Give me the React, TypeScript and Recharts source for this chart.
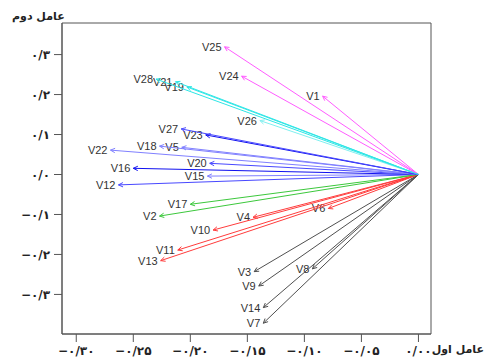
import React from "react";
import {
  ScatterChart,
  XAxis,
  YAxis,
  ReferenceLine,
  ReferenceArea,
} from "recharts";

// loadings (factor 1, factor 2)
const names = [
  "V1", "V2", "V3", "V4", "V5", "V6", "V7", "V8", "V9", "V10",
  "V11", "V12", "V13", "V14", "V15", "V16", "V17", "V18", "V19", "V20",
  "V21", "V22", "V23", "V24", "V25", "V26", "V27", "V28",
];
const factor1 = [
  -0.084, -0.227, -0.144, -0.145, -0.2075, -0.079, -0.136, -0.093, -0.14, -0.18,
  -0.211, -0.263, -0.226, -0.136, -0.185, -0.25, -0.2, -0.227, -0.203, -0.183,
  -0.213, -0.27, -0.1865, -0.155, -0.17, -0.139, -0.208, -0.23,
];
const factor2 = [
  0.196, -0.104, -0.243, -0.107, 0.068, -0.085, -0.372, -0.236, -0.279, -0.139,
  -0.189, -0.026, -0.2155, -0.333, -0.004, 0.0155, -0.0745, 0.071, 0.219, 0.028,
  0.232, 0.061, 0.099, 0.246, 0.3195, 0.135, 0.114, 0.2387,
];
const groups = [
  "pink", "green", "black", "red", "blueLight", "red", "black", "black", "black", "red",
  "red", "blue", "red", "black", "blueLight", "blueDark", "green", "blueLight", "cyan", "blue",
  "cyan", "blueLight", "blueDark", "pink", "pink", "cyanLight", "blue", "cyan",
];

const xTicks = [-0.3, -0.25, -0.2, -0.15, -0.1, -0.05, 0];
const yTicks = [-0.3, -0.2, -0.1, 0, 0.1, 0.2, 0.3];
const xTitle = "عامل اول";
const yTitle = "عامل دوم";

const groupColor: Record<string, string> = {
  pink: "#ff5cff",
  cyan: "#2ee6e6",
  cyanLight: "#7ff0f0",
  blueDark: "#1010f0",
  blue: "#4848ff",
  blueLight: "#8080ff",
  green: "#3cc83c",
  red: "#ff3c3c",
  black: "#505050",
};

const X_DOMAIN: [number, number] = [-0.3125, 0.011];
const Y_DOMAIN: [number, number] = [-0.399, 0.379];

const faDigits = "۰۱۲۳۴۵۶۷۸۹";
const toFa = (v: number, d: number) =>
  v
    .toFixed(d)
    .replace("-", "−")
    .replace(".", "/")
    .replace(/[0-9]/g, (c) => faDigits[Number(c)]);

const arrowShape = (label: string, color: string) => (p: any) => {
  const { x1, y1, x2, y2 } = p;
  const ang = Math.atan2(y1 - y2, x1 - x2);
  const len = 5;
  const spread = 0.45;
  const ax = x2 + len * Math.cos(ang + spread);
  const ay = y2 + len * Math.sin(ang + spread);
  const bx = x2 + len * Math.cos(ang - spread);
  const by = y2 + len * Math.sin(ang - spread);
  return (
    <g>
      <line x1={x1} y1={y1} x2={x2} y2={y2} stroke={color} strokeWidth={1} />
      <polyline
        points={`${ax},${ay} ${x2},${y2} ${bx},${by}`}
        fill="none"
        stroke={color}
        strokeWidth={1}
      />
      <text
        x={x2 - 3}
        y={y2 + 4}
        textAnchor="end"
        fontFamily="Liberation Sans, Arial, sans-serif"
        fontSize={11}
        fill="#333"
      >
        {label}
      </text>
    </g>
  );
};

const titleStyle: React.CSSProperties = {
  position: "absolute",
  fontFamily: "DejaVu Sans, sans-serif",
  fontWeight: "bold",
  fontSize: 11,
  color: "#222",
  whiteSpace: "nowrap",
};

export default function App() {
  return (
    <div style={{ position: "absolute", left: 0, top: 0, width: 486, height: 362, background: "#fff" }}>
      <ScatterChart
        width={486}
        height={362}
        margin={{ top: 23, right: 55, bottom: 0, left: 0 }}
      >
        <XAxis
          type="number"
          dataKey="x"
          domain={X_DOMAIN}
          ticks={xTicks}
          allowDataOverflow
          height={28}
          tickSize={8}
          tickMargin={4}
          stroke="#555"
          tick={{ fill: "#222", fontSize: 12, fontWeight: "bold", fontFamily: "DejaVu Sans, sans-serif" }}
          tickFormatter={(v: number) => toFa(v, 2)}
        />
        <YAxis
          type="number"
          dataKey="y"
          domain={Y_DOMAIN}
          ticks={yTicks}
          allowDataOverflow
          width={62}
          tickSize={8}
          tickMargin={4}
          stroke="#555"
          tick={{ fill: "#222", fontSize: 12, fontWeight: "bold", fontFamily: "DejaVu Sans, sans-serif" }}
          tickFormatter={(v: number) => toFa(v, 1)}
        />
        <ReferenceArea
          x1={X_DOMAIN[0]}
          x2={X_DOMAIN[1]}
          y1={Y_DOMAIN[0]}
          y2={Y_DOMAIN[1]}
          fill="none"
          stroke="#555"
          strokeWidth={1}
          ifOverflow="visible"
        />
        {names.map((n, i) => (
          <ReferenceLine
            key={n}
            segment={[
              { x: 0, y: 0 },
              { x: factor1[i], y: factor2[i] },
            ]}
            ifOverflow="visible"
            shape={arrowShape(n, groupColor[groups[i]])}
          />
        ))}
      </ScatterChart>
      <div style={{ ...titleStyle, left: 12, top: 10 }}>{yTitle}</div>
      <div style={{ ...titleStyle, right: 2, top: 343 }}>{xTitle}</div>
    </div>
  );
}
